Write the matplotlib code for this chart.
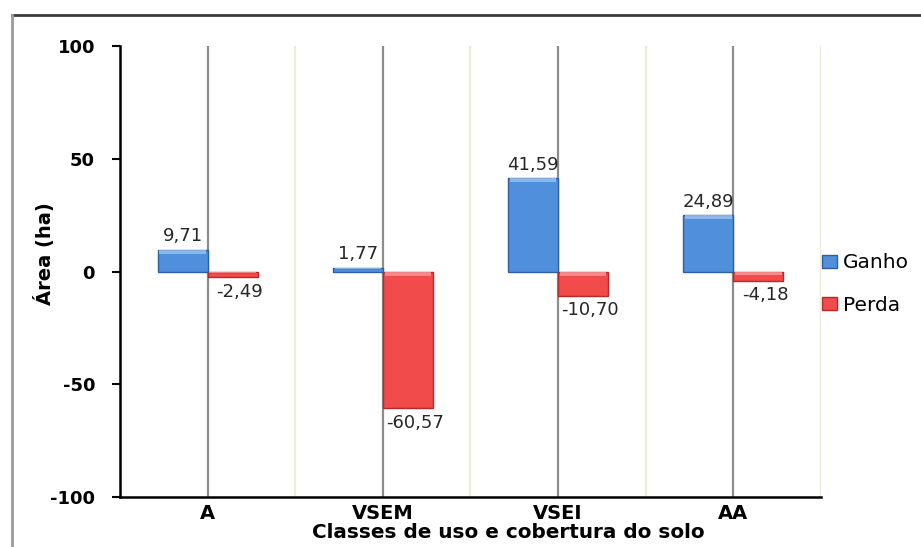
import matplotlib
matplotlib.use("Agg")
import matplotlib.pyplot as plt
from matplotlib.lines import Line2D
from matplotlib.patches import Rectangle
import numpy as np

categories = ["A", "VSEM", "VSEI", "AA"]
ganho = [9.71, 1.77, 41.59, 24.89]
perda = [-2.49, -60.57, -10.70, -4.18]
series_names = ["Ganho", "Perda"]
yticks = [-100, -50, 0, 50, 100]

blue, blue_edge, blue_light = "#4f8fdc", "#2f5f9e", "#9cc4f0"
red, red_edge, red_light = "#f24b4b", "#b52a2a", "#ff9a9a"

plt.rcParams["font.family"] = ["DejaVu Sans"]

fig = plt.figure(figsize=(9.21, 5.47), dpi=100)
ax = fig.add_axes([0.1303, 0.0914, 0.7611, 0.8245])

x = np.arange(len(categories))
w = 0.285

# category gridlines (centre) and boundary lines
for xi in x:
    ax.axvline(xi, color="#8c8c8c", lw=1.6, zorder=1)
for xb in x[1:] - 0.5:
    ax.axvline(xb, color="#ecebdc", lw=1.6, zorder=1)
ax.axvline(x[-1] + 0.5, color="#ecebdc", lw=1.6, zorder=1)


def bevel_bars(xs, vals, color, edge, light):
    bars = ax.bar(xs, vals, width=w, align="edge", color=color,
                  edgecolor=edge, linewidth=1.0, zorder=3)
    for b, v in zip(bars, vals):
        h = min(1.8, abs(v) * 0.35)
        top = max(v, 0)
        ax.add_patch(Rectangle((b.get_x() + 0.01, top - h), w - 0.02, h,
                               facecolor=light, edgecolor="none",
                               alpha=0.8, zorder=4))
    return bars


bg = bevel_bars(x - w, ganho, blue, blue_edge, blue_light)
bp = bevel_bars(x, perda, red, red_edge, red_light)


def fmt(v):
    return f"{v:.2f}".replace(".", ",")


for xi, v in zip(x, ganho):
    ax.annotate(fmt(v), (xi - w / 2, v), xytext=(0, 3), textcoords="offset points",
                ha="center", va="bottom", fontsize=13, color="#262626")
for xi, v in zip(x, perda):
    ax.annotate(fmt(v), (xi + w / 2, v), xytext=(5, -4), textcoords="offset points",
                ha="center", va="top", fontsize=13, color="#262626")

ax.set_xlim(-0.5, len(categories) - 0.5)
ax.set_ylim(-100, 100)
ax.set_yticks(yticks)
ax.set_yticklabels([str(t) for t in yticks], fontsize=13, fontweight="bold")
ax.set_xticks(x)
ax.set_xticklabels(categories, fontsize=14, fontweight="bold")
ax.tick_params(axis="y", length=6, width=1.5, pad=12)
ax.tick_params(axis="x", length=0, pad=5)

for s in ["top", "right"]:
    ax.spines[s].set_visible(False)
ax.spines["left"].set_linewidth(1.8)
ax.spines["bottom"].set_linewidth(1.8)
ax.spines["left"].set_zorder(5)
ax.spines["bottom"].set_zorder(5)

fig.text(45 / 921, 1 - 254 / 547, "Área (ha)", rotation=90, ha="center",
         va="center", fontsize=14, fontweight="bold")
fig.text(508 / 921, 1 - 533 / 547, "Classes de uso e cobertura do solo",
         ha="center", va="center", fontsize=14.4, fontweight="bold")

handles = [Rectangle((0, 0), 1, 1, facecolor=blue, edgecolor=blue_edge),
           Rectangle((0, 0), 1, 1, facecolor=red, edgecolor=red_edge)]
fig.legend(handles, series_names, loc="center left",
           bbox_to_anchor=(822 / 921, 1 - 284 / 547), frameon=False,
           fontsize=14.5, borderpad=0, borderaxespad=0,
           handlelength=0.75, handleheight=0.6, handletextpad=0.3,
           labelspacing=1.15)

# outer frame
fig.add_artist(Line2D([12 / 921, 1.0], [1 - 15 / 547, 1 - 15 / 547],
                      transform=fig.transFigure, color="#3c3c3c", lw=2.0))
fig.add_artist(Line2D([12 / 921, 12 / 921], [0.0, 1 - 15 / 547],
                      transform=fig.transFigure, color="#9a9a9a", lw=2.0))

fig.savefig("out.png", dpi=100)
